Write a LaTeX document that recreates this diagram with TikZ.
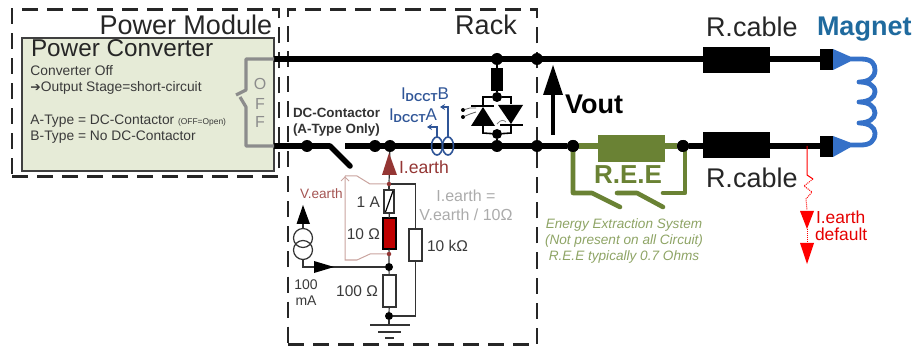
\documentclass[tikz,border=0pt]{standalone}
\usepackage{fontspec}
\setmainfont{Liberation Sans}
\newfontfamily\symf{DejaVu Sans}
\usetikzlibrary{arrows.meta,shapes.geometric}
\definecolor{pcfill}{HTML}{E6EBD7}
\definecolor{offgray}{HTML}{8C8C8C}
\definecolor{reegreen}{HTML}{6A8234}
\definecolor{reetext}{HTML}{8EA465}
\definecolor{brownred}{HTML}{943634}
\definecolor{brownlight}{HTML}{C9A39E}
\definecolor{dcctblue}{HTML}{2F5597}
\definecolor{magblue}{HTML}{3571C8}
\definecolor{magtext}{HTML}{1F6A9E}
\definecolor{txtgray}{HTML}{3A3A3A}
\definecolor{lightgray2}{HTML}{ABABAB}
\tikzset{
  every node/.style={inner sep=0pt,outer sep=0pt},
  fs/.style={font=\fontsize{#1}{#1}\selectfont},
  bigtxt/.style={fs=27,text=black!85},
  smalltxt/.style={fs=13.8,text=txtgray,anchor=west},
  valtxt/.style={fs=15.5,text=txtgray},
  reetxt/.style={text=reetext,font=\fontsize{13.6}{13.6}\selectfont\itshape},
  dashbox/.style={draw=black!85,line width=2.1pt,dash pattern=on 16pt off 9pt},
  wire/.style={draw=black,line width=5.6pt},
  dotn/.style={circle,fill=black,minimum size=#1},
  dotn/.default=12pt,
  thin wire/.style={draw=black!80,line width=1.2pt},
  res/.style={draw=black!80,line width=1.2pt,fill=white,minimum width=12pt},
  blackbox/.style={fill=black},
  gr/.style={draw=offgray,line width=3.2pt},
  gn/.style={draw=reegreen,line width=4.6pt},
  bl/.style={draw=dcctblue,line width=1.4pt},
  ctcoil/.style={draw=dcctblue,line width=1.6pt,ellipse,minimum width=11pt,minimum height=18pt},
  dctxt/.style={font=\fontsize{13.4}{13.4}\selectfont\bfseries,text=black!80,anchor=west},
  dccttxt/.style={font=\fontsize{17}{17}\selectfont,text=dcctblue,anchor=west},
  redtxt/.style={fs=17.4,text=red!90!black,anchor=west},
}
\begin{document}
\begin{tikzpicture}[x=1pt,y=-1pt]
\useasboundingbox (0,0) rectangle (914,350);
% boxes
\node[dashbox,minimum width=267pt,minimum height=167pt,anchor=north west] (pm) at (12,9.5) {};
\node[dashbox,minimum width=249pt,minimum height=335pt,anchor=north west] (rack) at (288,9.5) {};
\node[draw=black!75,line width=1.2pt,fill=pcfill,minimum width=252pt,minimum height=133pt,anchor=north west] (pc) at (22,38) {};
% main coordinates
\coordinate (t0) at (274,59); \coordinate (t1) at (820,59);
\coordinate (b0) at (274,146); \coordinate (b1) at (820,146);
\coordinate (swa) at (330,146); \coordinate (swb) at (350,166); \coordinate (swc) at (345,146);
% R.E.E
\node[dotn] (ree1) at (573,146) {}; \node[dotn] (ree2) at (683,146) {};
% wires
\draw[wire] (t0) -- (t1);
\draw[wire] (b0) -- (swa);
\draw[wire,line cap=round] (swa) -- (swb);
\draw[wire] (swc) -- (ree1);
\draw[wire] (ree2) -- (b1);
% R.E.E. branch
\draw[gn,line width=5.6pt] (ree1) -- (ree2);
\node[fill=reegreen,minimum width=67pt,minimum height=27pt,anchor=north west] (reebox) at (598,135) {};
\coordinate (g1) at (573,193); \coordinate (g2) at (592,193); \coordinate (g3) at (620,207);
\coordinate (g4) at (617,193); \coordinate (g5) at (637,193); \coordinate (g6) at (663,207);
\coordinate (g7) at (663,193); \coordinate (g8) at (685,193);
\draw[gn,line join=round,line cap=round] (ree1) -- (g1) -- (g2) -- (g3);
\draw[gn,line join=round,line cap=round] (g4) -- (g5) -- (g6);
\draw[gn,line join=round,line cap=round] (g7) -- (g8) -- (685,150);
\node[dotn] at (ree1) {}; \node[dotn] at (ree2) {};
\node[font=\fontsize{26}{26}\selectfont\bfseries,text=reegreen] (reelabel) at (628,175) {R.E.E};
\node[reetxt] (e1) at (624,225) {Energy Extraction System};
\node[reetxt] (e2) at (624,241) {(Not present on all Circuit)};
\node[reetxt] (e3) at (624,257) {R.E.E typically 0.7 Ohms};
% dots on the main line
\node[dotn] (d1) at (307,146) {};
\node[dotn] (d2) at (375,146) {};
\node[dotn] (d3) at (390,146) {};
\node[dotn] (d4) at (497,146) {};
\node[dotn] (d5) at (537,146) {};
\node[dotn] (d6) at (537,59) {};
\node[dotn] (d7) at (497,59) {};
% cable resistors
\node[blackbox,minimum width=67pt,minimum height=26pt,anchor=north west] (rc1) at (703,47) {};
\node[blackbox,minimum width=67pt,minimum height=26pt,anchor=north west] (rc2) at (703,132) {};
\node[blackbox,minimum width=13pt,minimum height=21pt,anchor=north west] (m1) at (820,49) {};
\node[blackbox,minimum width=13pt,minimum height=21pt,anchor=north west] (m2) at (820,136) {};
% magnet
\fill[magblue] (m1.north east) -- (m1.south east) -- (850,61.5) -- (850,56.5) -- cycle;
\fill[magblue] (m2.north east) -- (m2.south east) -- (850,147.5) -- (850,142.5) -- cycle;
\draw[magblue,line width=4.8pt,line cap=round,line join=round]
  (848,59) -- (861,59) .. controls (872,59) and (875,64) .. (875,70)
  .. controls (875,78) and (868,82) .. (859,82)
  .. controls (868,82) and (875,85) .. (875,92)
  .. controls (875,98) and (868,102) .. (859,102)
  .. controls (868,102) and (875,106) .. (875,113)
  .. controls (875,119) and (868,123) .. (859,123)
  .. controls (868,123) and (875,127) .. (875,133)
  .. controls (875,141) and (870,145) .. (861,145) -- (848,145);
% OFF switch
\coordinate (o1) at (246,59); \coordinate (o2) at (246,90); \coordinate (o3) at (236,95);
\coordinate (o4) at (240,97); \coordinate (o5) at (246,107); \coordinate (o6) at (246,146);
\draw[gr,line join=round] (t0) -- (o1) -- (o2) -- (o3);
\draw[gr,line join=round] (o4) -- (o5) -- (o6) -- (b0);
\node[fs=16,text=offgray] (of1) at (260,84) {O};
\node[fs=16,text=offgray] (of2) at (260,103.5) {F};
\node[fs=16,text=offgray] (of3) at (260,122) {F};
% thyristors
\node[blackbox,minimum width=12pt,minimum height=23pt,anchor=north west] (thr) at (491,68) {};
\node[dotn=10pt] (th1) at (497,97) {};
\node[dotn=10pt] (th2) at (497,134) {};
\draw[draw=black,line width=2.6pt] (d7) -- (thr);
\draw[draw=black,line width=2.6pt] (thr) -- (th1);
\draw[draw=black,line width=2.6pt] (th2) -- (d4);
\draw[draw=black,line width=1.6pt] (483,126) -- (483,133) -- (th2) -- (511,133) -- (511,124);
\draw[draw=black,line width=1.6pt] (483,106) -- (483,97) -- (th1) -- (511,97) -- (511,104);
\fill[black] (471,126) -- (495,126) -- (483,107) -- cycle;
\fill[black] (498,105) -- (523,105) -- (511,124) -- cycle;
\draw[line width=1.3pt] (471,106) -- (494,106);
\draw[line width=1.3pt] (500,125) -- (523,125);
\node[dotn=4pt] (gd1) at (463,110) {};
\node[dotn=4pt] (gd2) at (463,117) {};
\draw[draw=black!60,line width=.8pt] (gd1) -- (470,108) -- (476,108);
\draw[draw=black!60,line width=.8pt] (gd2) -- (470,114) -- (476,112);
\draw[draw=black!50,line width=.8pt] (497,124) .. controls (501,119) and (504,120) .. (506,122);
% Vout
\coordinate (va) at (553,135); \coordinate (vb) at (553,93);
\draw[draw=black,line width=4.6pt] (va) -- (vb);
\fill[black] (553,65) -- (543,95) -- (563,95) -- cycle;
\node[font=\fontsize{27}{27}\selectfont\bfseries,anchor=west] (vout) at (565,104) {Vout};
% labels top
\node[bigtxt,anchor=west] (pml) at (99.5,25) {Power Module};
\node[fs=24.3,text=black!85,anchor=west] (pcl) at (31,48.5) {Power Converter};
\node[bigtxt] (rackl) at (486,25) {Rack};
\node[bigtxt,anchor=west] (rcl1) at (706,27) {R.cable};
\node[bigtxt,anchor=west] (rcl2) at (706,178) {R.cable};
\node[font=\fontsize{27}{27}\selectfont\bfseries,text=magtext,anchor=west] (magl) at (817,29) {Magnet};
% converter text
\node[smalltxt] (c1) at (30.5,71) {Converter Off};
\node[smalltxt] (c2) at (30.5,88) {{\symf\fontsize{12.5}{12.5}\selectfont ➔}Output Stage=short-circuit};
\node[smalltxt] (c3) at (30.5,121) {A-Type = DC-Contactor {\fontsize{8.4}{8.4}\selectfont (OFF=Open)}};
\node[smalltxt] (c4) at (30.5,137) {B-Type = No DC-Contactor};
% contactor text
\node[dctxt] (dc1) at (293,113) {DC-Contactor};
\node[dctxt] (dc2) at (293,130) {(A-Type Only)};
% DCCT
\node[dccttxt] (ib) at (401,95) {I\raisebox{-2pt}{\fontsize{11.5}{11.5}\selectfont\bfseries DCCT}B};
\node[dccttxt] (ia) at (389,116) {I\raisebox{-2pt}{\fontsize{11.5}{11.5}\selectfont\bfseries DCCT}A};
\node[ctcoil] (cta) at (437,146) {};
\node[ctcoil] (ctb) at (448,146) {};
\coordinate (ca2) at (437,127); \coordinate (ca3) at (427,127);
\coordinate (cb2) at (448,107); \coordinate (cb3) at (440,107);
\draw[bl,-{Stealth[length=5pt,width=6pt]}] (cta.north) -- (ca2) -- (ca3);
\draw[bl,-{Stealth[length=5pt,width=6pt]}] (ctb.north) -- (cb2) -- (cb3);
% earth branch
\node[dotn=4.5pt,fill=brownred] (etop) at (389,184) {};
\node[res,minimum height=23pt,minimum width=10pt,anchor=north] (fuse) at (389,190) {};
\node[draw=black,line width=1.2pt,fill=red!75!black,minimum width=13pt,minimum height=31pt,anchor=north] (r10) at (389.5,218) {};
\node[dotn=4.5pt,fill=brownred] (ebot) at (389,254) {};
\node[dotn=8pt] (emid) at (389,267) {};
\node[res,minimum width=13pt,minimum height=32pt,anchor=north] (r100) at (389.5,275) {};
\node[dotn=8pt] (egnd) at (389,316) {};
\node[res,minimum width=13pt,minimum height=32pt,anchor=north] (r10k) at (415.5,229) {};
\draw[line width=1.2pt,draw=black] (385.5,212) -- (393,191);
\draw[thin wire] (d3) -- (etop);
\draw[thin wire] (etop) -- (fuse);
\draw[thin wire] (fuse) -- (r10);
\draw[thin wire] (r10) -- (ebot) -- (emid) -- (r100) -- (egnd);
\draw[thin wire] (etop) -| (r10k);
\draw[thin wire] (r10k) |- (egnd);
\coordinate (gnd0) at (389,325);
\draw[thin wire] (egnd) -- (gnd0);
\draw[draw=black!80,line width=1.8pt] (370,325) -- (410,325);
\draw[draw=black!80,line width=1.8pt] (378,332) -- (401,332);
\draw[draw=black!80,line width=1.8pt] (385,338) -- (394,338);
\fill[brownred] (389,153) -- (382,175) -- (397,175) -- cycle;
\node[fs=17.6,text=brownred,anchor=west] (iel) at (399,167) {I.earth};
% current source
\node[draw=black!80,line width=1.2pt,circle,minimum size=19pt] (cs1) at (303,238) {};
\node[draw=black!80,line width=1.2pt,circle,minimum size=19pt] (cs2) at (303,250) {};
\coordinate (ct) at (303,223);
\draw[thin wire] (ct) -- (cs1);
\fill[black] (303,205) -- (296.5,224) -- (310,224) -- cycle;
\coordinate (cc) at (303,267);
\draw[thin wire] (cs2) -- (cc) -- (emid);
\fill[black] (334,267) -- (314,261) -- (314,273) -- cycle;
% V.earth bracket
\coordinate (v1) at (370,184); \coordinate (v2) at (357,176); \coordinate (v3) at (345,176);
\coordinate (v4) at (345,260); \coordinate (v5) at (357,260); \coordinate (v6) at (370,254);
\draw[draw=brownlight,line width=1pt] (etop) -- (v1) -- (v2) -- (v3);
\draw[draw=brownlight,line width=1pt] (ebot) -- (v6) -- (v5) -- (v4) -- (v3);
\draw[draw=brownlight,line width=.8pt] (341,181) -- (345,177) -- (349,181);
\node[fs=13.6,text=brownred!85,anchor=west] (vel) at (300,194) {V.earth};
% values
\node[valtxt,anchor=east] (v1a) at (380,202) {1 A};
\node[valtxt,anchor=east] (v10) at (380,234) {10 Ω};
\node[valtxt,anchor=west] (v10k) at (427,246) {10 kΩ};
\node[valtxt,anchor=east] (v100) at (378,291) {100 Ω};
\node[fs=14,text=txtgray] (ma1) at (306,285) {100};
\node[fs=14,text=txtgray] (ma2) at (306,301) {mA};
\node[fs=16,text=lightgray2] (ie1) at (466,196) {I.earth =};
\node[fs=16,text=lightgray2] (ie2) at (466,215) {V.earth / 10Ω};
% earth default
\coordinate (r0) at (807,146); \coordinate (r1) at (807,175); \coordinate (r2) at (813,179);
\coordinate (r3) at (804,186); \coordinate (r4) at (812,192); \coordinate (r5) at (806,199);
\coordinate (r6) at (807,210);
\draw[draw=red,line width=1pt] (r0) -- (r1) -- (r2);
\draw[draw=red,line width=1pt,densely dotted] (r2) -- (r3) -- (r4) -- (r5) -- (r6);
\fill[red] (807,229) -- (800,211) -- (814,211) -- cycle;
\draw[draw=red,line width=1pt,densely dotted] (807,229) -- (807,243);
\fill[red] (807,264) -- (800,243) -- (814,243) -- cycle;
\node[redtxt] (rl1) at (816,217) {I.earth};
\node[redtxt] (rl2) at (815,234) {default};
\end{tikzpicture}
\end{document}
